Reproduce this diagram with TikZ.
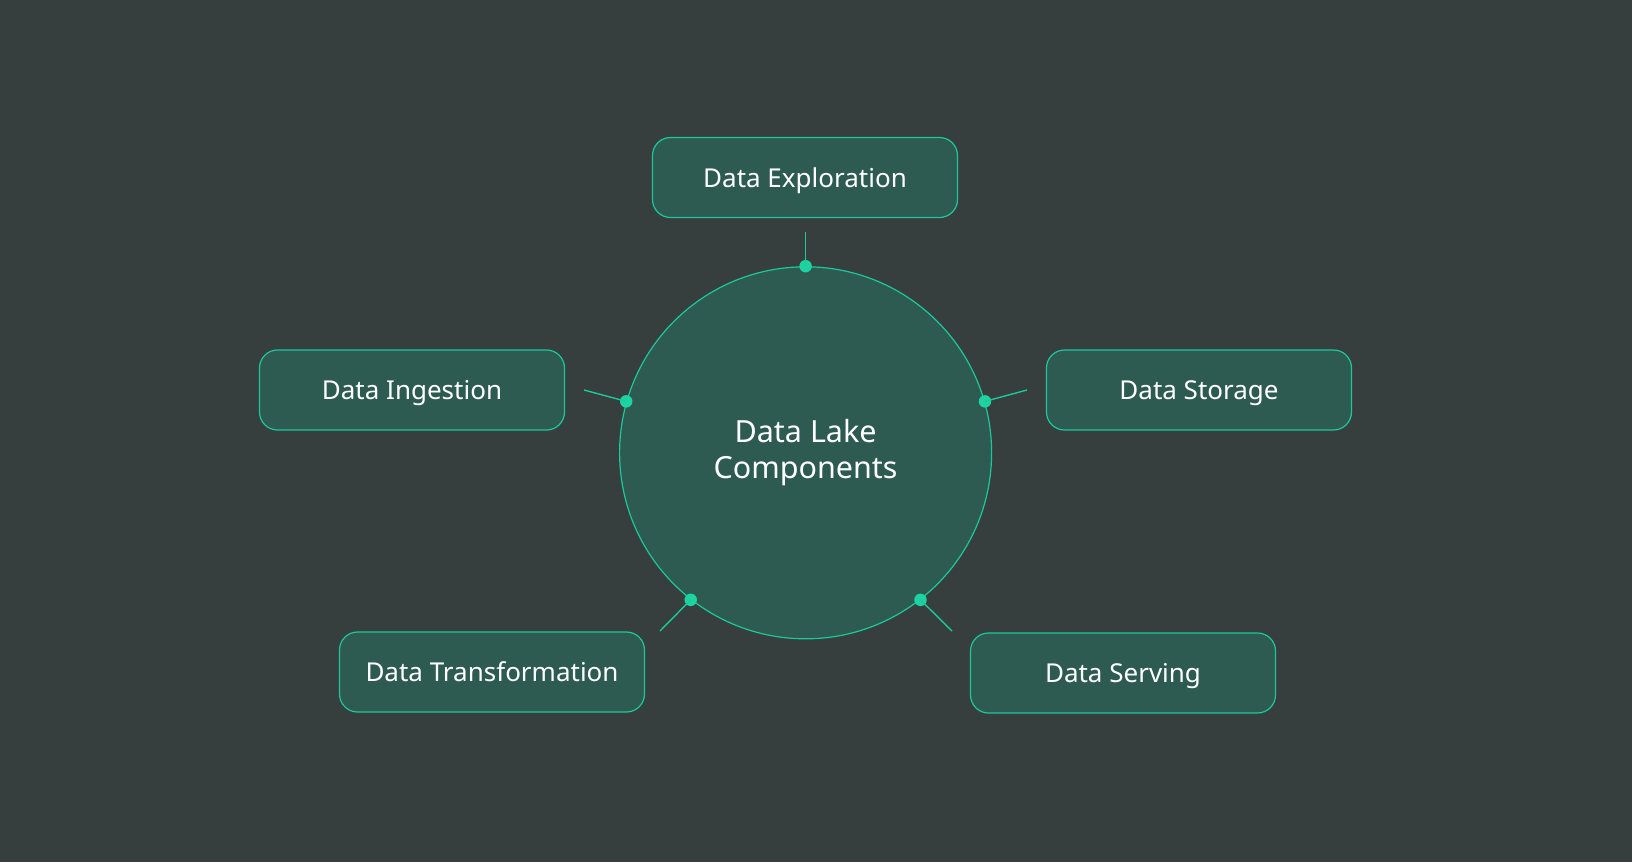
\documentclass[tikz,border=0pt]{standalone}
\usepackage{fontspec}
\setmainfont{Noto Sans}
\usepackage{tikz}
\definecolor{bgcol}{HTML}{363F3E}
\definecolor{fillcol}{HTML}{2D5A51}
\definecolor{edgecol}{HTML}{1BC99B}
\definecolor{dotcol}{HTML}{1ED3A1}
\tikzset{
  part/.style={draw=edgecol, line width=1.2pt, fill=fillcol, rounded corners=18pt,
    minimum width=305pt, minimum height=80pt, text=white, text depth=0pt,
    font=\fontsize{26}{31}\selectfont},
  hub/.style={draw=edgecol, line width=1.2pt, fill=fillcol, circle, minimum size=372pt,
    text=white, align=center, font=\fontsize{30.5}{36}\selectfont},
  pin/.style={circle, fill=dotcol, inner sep=0pt, minimum size=12.5pt},
  link/.style={draw=edgecol, line width=1.4pt}
}
\begin{document}
\begin{tikzpicture}[x=1pt, y=-1pt]
\fill[bgcol] (0,0) rectangle (1632,862);
\useasboundingbox (0,0) rectangle (1632,862);
% centre
\node[hub] (lake) at (805.6,452.8) {Data Lake\\Components};
% components
\node[part] (explore) at (805,177.5) {Data Exploration};
\node[part] (ingest) at (412,390) {Data Ingestion};
\node[part] (store) at (1199,390) {Data Storage};
\node[part] (transform) at (492,672) {Data Transformation};
\node[part] (serve) at (1123,673) {Data Serving};
% pins on the circle
\node[pin] (p1) at (lake.90) {};
\node[pin] (p2) at (lake.164) {};
\node[pin] (p3) at (lake.16) {};
\node[pin] (p4) at (lake.-128) {};
\node[pin] (p5) at (lake.-52) {};
% free ends
\coordinate (e1) at (805.6,232);
\coordinate (e2) at (584,390);
\coordinate (e3) at (1027,390);
\coordinate (e4) at (660,631);
\coordinate (e5) at (952,631);
\draw[link] (p1.center) -- (e1);
\draw[link] (p2.center) -- (e2);
\draw[link] (p3.center) -- (e3);
\draw[link] (p4.center) -- (e4);
\draw[link] (p5.center) -- (e5);
\end{tikzpicture}
\end{document}
